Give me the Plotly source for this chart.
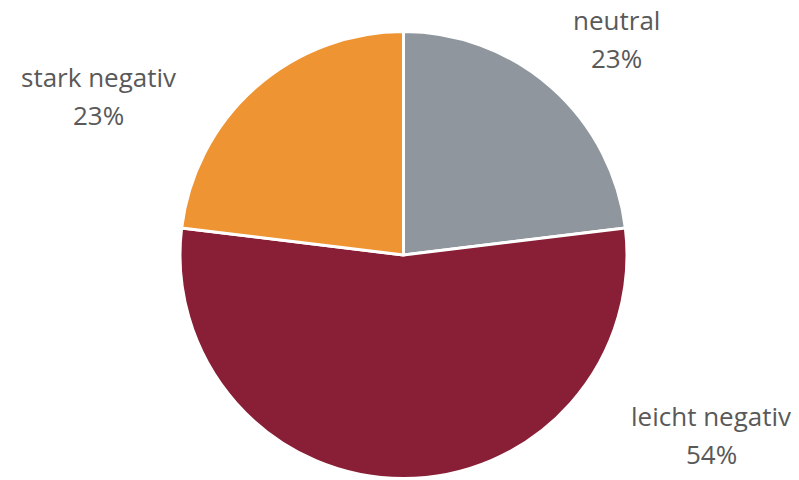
import plotly.graph_objects as go

labels = ["neutral", "leicht negativ", "stark negativ"]
values = [3, 7, 3]
colors = ["#8f969d", "#891f36", "#ef9433"]

# label anchor positions (pixel centres in the page) for the outside labels
label_pos = {"neutral": (616, 20), "leicht negativ": (711, 416), "stark negativ": (98, 77)}

W, H = 799, 480
OFF = 8  # page body margin
cx, cy, r = 403.5 - OFF, 255 - OFF, 223.5

fig = go.Figure(go.Pie(
    labels=labels, values=values, sort=False, direction="clockwise", rotation=0,
    marker=dict(colors=colors, line=dict(color="white", width=3)),
    textinfo="none", hoverinfo="label+percent", showlegend=False,
    domain=dict(x=[(cx - r) / W, (cx + r) / W], y=[1 - (cy + r) / H, 1 - (cy - r) / H]),
))

total = sum(values)
font = dict(family="Open Sans", size=26, color="#595959")
for lab, val in zip(labels, values):
    x, y = label_pos[lab]
    x, y = x - OFF, y - OFF
    pct = f"{round(100 * val / total)}%"
    for i, t in enumerate([lab, pct]):
        fig.add_annotation(x=x / W, y=1 - (y + 38 * i) / H, xref="paper", yref="paper",
                           text=t, showarrow=False, font=font, xanchor="center", yanchor="middle")

fig.update_layout(width=W, height=H, margin=dict(l=0, r=0, t=0, b=0),
                  paper_bgcolor="white", plot_bgcolor="white")
fig.write_html("out.html")
